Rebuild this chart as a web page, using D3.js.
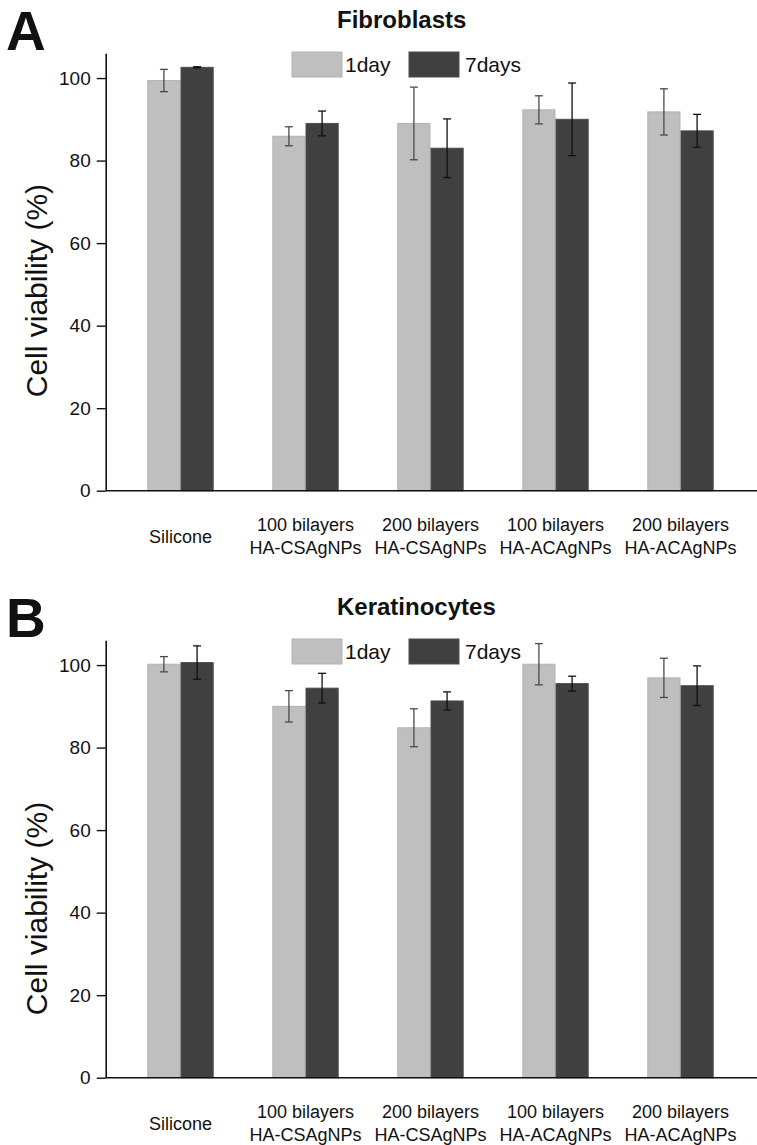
<!DOCTYPE html>
<html><head><meta charset="utf-8">
<script src="https://cdn.jsdelivr.net/npm/d3@7"></script>
<style>
body{margin:0;background:#fff}
svg{display:block}
text{font-family:"Liberation Sans",Arial,Helvetica,sans-serif;fill:#111}
</style>
</head><body>
<svg id="c" width="757" height="1145"></svg>
<script>
// ---- data ----
const categories = ["Silicone","100 bilayers HA-CSAgNPs","200 bilayers HA-CSAgNPs","100 bilayers HA-ACAgNPs","200 bilayers HA-ACAgNPs"];
const categoryLines = [["Silicone"],["100 bilayers","HA-CSAgNPs"],["200 bilayers","HA-CSAgNPs"],["100 bilayers","HA-ACAgNPs"],["200 bilayers","HA-ACAgNPs"]];
const seriesNames = ["1day","7days"];
const yTicks = [0,20,40,60,80,100];

const fibro1day = [99.4, 85.9, 89.0, 92.3, 91.8];
const fibro1dayErr = [2.7, 2.3, 8.8, 3.4, 5.6];
const fibro7days = [102.6, 89.0, 83.0, 90.0, 87.2];
const fibro7daysErr = [0.15, 3.0, 7.1, 8.8, 4.0];

const kera1day = [100.2, 90.0, 84.8, 100.2, 96.9];
const kera1dayErr = [1.85, 3.8, 4.6, 5.0, 4.75];
const kera7days = [100.6, 94.4, 91.3, 95.5, 95.0];
const kera7daysErr = [4.05, 3.6, 2.2, 1.8, 4.8];

const panels = [
  {letter:"A", title:"Fibroblasts", values:[fibro1day, fibro7days], errors:[fibro1dayErr, fibro7daysErr], offset:0, labelAt:48.5},
  {letter:"B", title:"Keratinocytes", values:[kera1day, kera7days], errors:[kera1dayErr, kera7daysErr], offset:587, labelAt:41}
];

// ---- styles ----
const fills = ["#bfbfbf", "#404040"];
const strokes = ["#b3b3b3", "#4d4d4d"];
const errColors = ["#4a4a4a", "#111111"];

const svg = d3.select("#c");
const W = 757;

const y = d3.scaleLinear().domain([0,106]).range([490.7, 53.3]);
const x0 = d3.scaleBand().domain(categories).range([118, 743]).paddingInner(0.469).paddingOuter(0.2345);
const x1 = d3.scaleBand().domain(seriesNames).range([0, x0.bandwidth()]);
const axisX = 105.7;

panels.forEach(p => {
  const g = svg.append("g").attr("transform", `translate(0,${p.offset})`);

  // panel letter
  g.append("text").attr("x", 6).attr("y", 50).attr("font-size", 55).attr("font-weight", "bold").text(p.letter);
  // title
  g.append("text").attr("x", 337).attr("y", 28).attr("font-size", 24).attr("font-weight", "bold").text(p.title);

  // bars
  seriesNames.forEach((s, si) => {
    const rows = categories.map((c, i) => ({c, v: p.values[si][i], e: p.errors[si][i]}));
    g.append("g").selectAll("rect").data(rows).join("rect")
      .attr("x", d => x0(d.c) + x1(s) + 0.5)
      .attr("y", d => y(d.v))
      .attr("width", x1.bandwidth() - 1)
      .attr("height", d => y(0) - y(d.v))
      .attr("fill", fills[si])
      .attr("stroke", strokes[si]).attr("stroke-width", 1);
  });

  // error bars
  seriesNames.forEach((s, si) => {
    const rows = categories.map((c, i) => ({c, v: p.values[si][i], e: p.errors[si][i]}));
    const eg = g.append("g").attr("stroke", errColors[si]).attr("stroke-width", 1.3).attr("fill", "none");
    const cx = d => x0(d.c) + x1(s) + x1.bandwidth() / 2;
    eg.selectAll("line.v").data(rows).join("line").attr("class", "v")
      .attr("x1", cx).attr("x2", cx)
      .attr("y1", d => y(d.v + d.e)).attr("y2", d => y(d.v - d.e));
    eg.selectAll("line.t").data(rows).join("line").attr("class", "t")
      .attr("x1", d => cx(d) - 4).attr("x2", d => cx(d) + 4)
      .attr("y1", d => y(d.v + d.e)).attr("y2", d => y(d.v + d.e));
    eg.selectAll("line.b").data(rows).join("line").attr("class", "b")
      .attr("x1", d => cx(d) - 4).attr("x2", d => cx(d) + 4)
      .attr("y1", d => y(d.v - d.e)).attr("y2", d => y(d.v - d.e));
  });

  // y axis
  const ya = g.append("g").attr("transform", `translate(${axisX},0)`)
    .call(d3.axisLeft(y).tickValues(yTicks).tickSize(9).tickSizeOuter(0).tickPadding(6));
  ya.selectAll("path.domain").attr("stroke", "#111").attr("stroke-width", 1.6);
  ya.selectAll(".tick line").attr("stroke", "#111").attr("stroke-width", 1.4);
  ya.selectAll(".tick text").attr("font-size", 19).attr("fill", "#111")
    .style("font-family", '"Liberation Sans",Arial,sans-serif');

  // x axis baseline
  g.append("line").attr("x1", axisX).attr("x2", W).attr("y1", y(0)).attr("y2", y(0))
    .attr("stroke", "#111").attr("stroke-width", 1.6);

  // x labels
  const xa = g.append("g").attr("transform", `translate(0,${y(0)})`)
    .call(d3.axisBottom(x0).tickSize(0).tickFormat(""));
  xa.select("path.domain").remove();
  xa.selectAll(".tick").each(function(c) {
    const i = categories.indexOf(c);
    const lines = categoryLines[i];
    const t = d3.select(this).append("text").attr("text-anchor", "middle").attr("font-size", 18).attr("fill", "#111")
      .style("font-family", '"Liberation Sans",Arial,sans-serif');
    if (lines.length === 1) {
      t.append("tspan").attr("x", 0).attr("y", 52).text(lines[0]);
    } else {
      lines.forEach((l, k) => t.append("tspan").attr("x", 0).attr("y", 40.5 + k * 23.3).text(l));
    }
  });

  // y label
  g.append("text").attr("transform", `translate(47,${y(p.labelAt)}) rotate(-90)`)
    .attr("text-anchor", "middle").attr("font-size", 30).text("Cell viability (%)");

  // legend
  const legX = [292, 409];
  const legTX = [345, 465];
  seriesNames.forEach((s, si) => {
    g.append("rect").attr("x", legX[si]).attr("y", 52).attr("width", 50).attr("height", 25)
      .attr("fill", fills[si]).attr("stroke", strokes[si]).attr("stroke-width", 1);
    g.append("text").attr("x", legTX[si]).attr("y", 71.7).attr("font-size", 21).text(s);
  });
});
</script>
</body></html>
